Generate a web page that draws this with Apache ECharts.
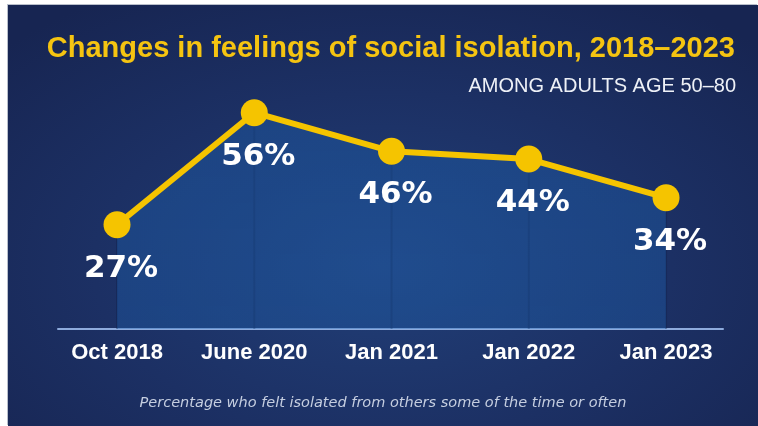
<!DOCTYPE html>
<html>
<head>
<meta charset="utf-8">
<title>Changes in feelings of social isolation, 2018–2023</title>
<script src="https://cdn.jsdelivr.net/npm/echarts@6/dist/echarts.min.js"></script>
<style>
  html, body { margin: 0; padding: 0; background: #ffffff; }
  body { width: 758px; height: 426px; position: relative; overflow: hidden; }
  #panel {
    position: absolute; left: 8px; top: 5px; width: 750px; height: 421px;
    background: radial-gradient(ellipse 70% 75% at 50% 62%, #213f78 0%, #1c3064 55%, #172552 100%);
    box-shadow: -1px -1px 0 #b9bfcb;
  }
  #chart { width: 750px; height: 421px; }
</style>
</head>
<body>
<div id="panel"><div id="chart"></div></div>
<script>
// Survey waves and share of adults 50–80 who felt isolated (%)
const periods = ['Oct 2018', 'June 2020', 'Jan 2021', 'Jan 2022', 'Jan 2023'];
const isolatedPct = [27, 56, 46, 44, 34];

const titleText = 'Changes in feelings of social isolation, 2018–2023';
const subtitleText = 'AMONG ADULTS AGE 50–80';
const noteText = 'Percentage who felt isolated from others some of the time or often';

// Pair each wave with its position on the x scale
const points = isolatedPct.map((v, i) => [i, v]);
const tickPositions = periods.map((_, i) => i);

const chart = echarts.init(document.getElementById('chart'), null, { renderer: 'canvas' });

chart.setOption({
  backgroundColor: 'transparent',
  animation: false,
  title: [
    {
      text: titleText,
      right: 18, top: 24,
      textStyle: { color: '#f5c411', fontFamily: 'Liberation Sans, Arial, sans-serif', fontWeight: 'bold', fontSize: 29 }
    },
    {
      text: subtitleText,
      right: 17, top: 66,
      textStyle: { color: '#eef1f7', fontFamily: 'Liberation Sans, Arial, sans-serif', fontWeight: 'normal', fontSize: 20 }
    },
    {
      text: noteText,
      left: 'center', top: 386,
      textStyle: { color: '#c5cee0', fontFamily: 'DejaVu Sans, sans-serif', fontStyle: 'italic', fontWeight: 'normal', fontSize: 14.5 }
    }
  ],
  grid: { left: 50, right: 35, top: 15, bottom: 97 },
  xAxis: {
    type: 'value',
    min: -0.43,
    max: 4.415,
    axisLine: { show: true, lineStyle: { color: '#8eabdc', width: 2 } },
    axisTick: { show: false },
    splitLine: { show: false },
    axisLabel: {
      customValues: tickPositions,
      formatter: (v) => periods[Math.round(v)],
      color: '#ffffff',
      fontFamily: 'Liberation Sans, Arial, sans-serif',
      fontWeight: 'bold',
      fontSize: 22,
      margin: 13
    }
  },
  yAxis: {
    type: 'value',
    min: 0,
    max: 80,
    show: false
  },
  series: [
    {
      // faint drop lines beneath each wave
      type: 'bar',
      data: points,
      barWidth: 2,
      silent: true,
      itemStyle: { color: 'rgba(14, 30, 68, 0.35)' },
      z: 1
    },
    {
      type: 'line',
      data: points,
      symbol: 'circle',
      symbolSize: 27,
      lineStyle: { color: '#f5c400', width: 6 },
      itemStyle: { color: '#f5c400' },
      areaStyle: {
        color: {
          type: 'linear', x: 0, y: 0, x2: 0, y2: 1,
          colorStops: [
            { offset: 0, color: 'rgba(30, 100, 180, 0.55)' },
            { offset: 1, color: 'rgba(30, 100, 180, 0.50)' }
          ]
        }
      },
      label: {
        show: true,
        position: 'bottom',
        distance: 15,
        offset: [4, 0],
        formatter: (p) => p.value[1] + '%',
        color: '#ffffff',
        fontFamily: 'DejaVu Sans, sans-serif',
        fontWeight: 'bold',
        fontSize: 31
      },
      z: 3
    }
  ]
});
</script>
</body>
</html>
